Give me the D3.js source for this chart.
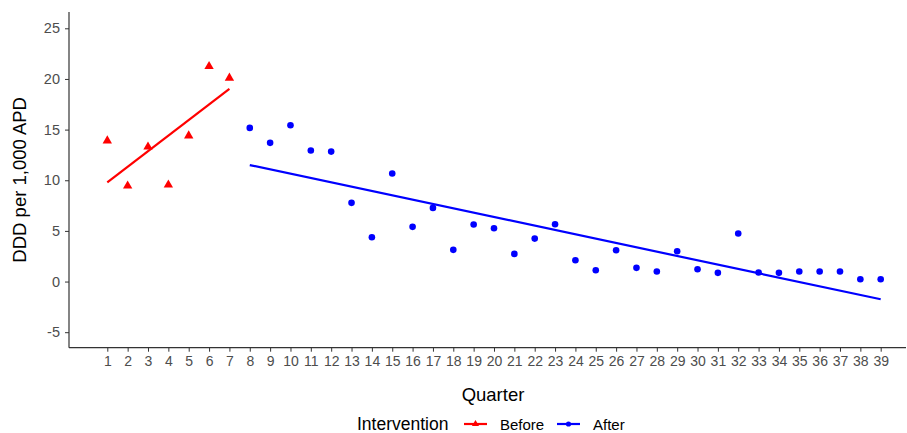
<!DOCTYPE html>
<html><head><meta charset="utf-8">
<script src="https://cdn.jsdelivr.net/npm/d3@7"></script>
<style>
body{margin:0;background:#fff;}
svg text{font-family:"Liberation Sans",Arial,sans-serif;}
</style></head>
<body><svg id="c" width="907" height="433"></svg>
<script>
const quartersBefore = [1,2,3,4,5,6,7];
const valuesBefore = [13.9,9.45,13.3,9.55,14.4,21.25,20.1];
const quartersAfter = [8,9,10,11,12,13,14,15,16,17,18,19,20,21,22,23,24,25,26,27,28,29,30,31,32,33,34,35,36,37,38,39];
const valuesAfter = [15.17,13.69,15.43,12.93,12.83,7.77,4.37,10.66,5.4,7.27,3.13,5.63,5.26,2.73,4.24,5.66,2.1,1.12,3.09,1.35,0.99,2.99,1.21,0.86,4.74,0.89,0.86,0.99,0.99,0.99,0.23,0.23];
const fitBefore = [[1,9.8],[7,19.02]];
const fitAfter = [[8,11.5],[39,-1.75]];
const xTicks = d3.range(1,40);
const yTicks = [-5,0,5,10,15,20,25];

(function(){
const svg = d3.select("#c");
const mLeft = 69, mRight = 906, mTop = 12, mBottom = 347.7;
const x = d3.scaleLinear().domain([1,39]).range([107.3,880.7]);
const y = d3.scaleLinear().domain([-5,25]).range([332.2,28.3]);

const gy = svg.append("g").attr("transform",`translate(${mLeft},0)`)
  .call(d3.axisLeft(y).tickValues(yTicks).tickFormat(d=>String(d)).tickSize(4).tickPadding(5).tickSizeOuter(0));
gy.select(".domain").attr("d",`M0,${mTop}V${mBottom}`).attr("stroke","#333").attr("stroke-width",1.2);
gy.selectAll(".tick line").attr("stroke","#333");
gy.selectAll(".tick text").attr("fill","#4d4d4d").style("font-size","14.5px");

const gx = svg.append("g").attr("transform",`translate(0,${mBottom})`)
  .call(d3.axisBottom(x).tickValues(xTicks).tickFormat(d=>String(d)).tickSize(4).tickPadding(4).tickSizeOuter(0));
gx.select(".domain").attr("d",`M${mLeft},0H${mRight}`).attr("stroke","#333").attr("stroke-width",1.2);
gx.selectAll(".tick line").attr("stroke","#333");
gx.selectAll(".tick text").attr("fill","#4d4d4d").style("font-size","14px");

svg.append("text").attr("x",493).attr("y",401).attr("text-anchor","middle")
  .style("font-size","18.5px").attr("fill","#000").text("Quarter");
svg.append("text").attr("transform",`translate(26,${(mTop+mBottom)/2}) rotate(-90)`)
  .attr("text-anchor","middle").style("font-size","18.5px").attr("fill","#000").text("DDD per 1,000 APD");

const line = d3.line().x(d=>x(d[0])).y(d=>y(d[1]));
svg.append("path").datum(fitBefore).attr("d",line).attr("stroke","#ff0000").attr("stroke-width",2.2).attr("fill","none");
svg.append("path").datum(fitAfter).attr("d",line).attr("stroke","#0000ff").attr("stroke-width",2.2).attr("fill","none");

const tri = d3.symbol().type(d3.symbolTriangle).size(38);
svg.append("g").selectAll("path").data(quartersBefore.map((q,i)=>[q,valuesBefore[i]])).join("path")
  .attr("d",tri).attr("transform",d=>`translate(${x(d[0])},${y(d[1])})`).attr("fill","#ff0000");
svg.append("g").selectAll("circle").data(quartersAfter.map((q,i)=>[q,valuesAfter[i]])).join("circle")
  .attr("cx",d=>x(d[0])).attr("cy",d=>y(d[1])).attr("r",3.3).attr("fill","#0000ff");

const ly = 424;
svg.append("text").attr("x",357).attr("y",430).style("font-size","17.5px").attr("fill","#000").text("Intervention");
const keys = [{label:"Before",color:"#ff0000",shape:"tri",x:464,tx:500},{label:"After",color:"#0000ff",shape:"circ",x:557,tx:593}];
keys.forEach(k=>{
  svg.append("line").attr("x1",k.x).attr("x2",k.x+23).attr("y1",ly).attr("y2",ly).attr("stroke",k.color).attr("stroke-width",2.2);
  if(k.shape==="tri") svg.append("path").attr("d",d3.symbol().type(d3.symbolTriangle).size(22)).attr("transform",`translate(${k.x+11.5},${ly})`).attr("fill",k.color);
  else svg.append("circle").attr("cx",k.x+11.5).attr("cy",ly).attr("r",2.6).attr("fill",k.color);
  svg.append("text").attr("x",k.tx).attr("y",430).style("font-size","15px").attr("fill","#000").text(k.label);
});
})();
</script></body></html>
